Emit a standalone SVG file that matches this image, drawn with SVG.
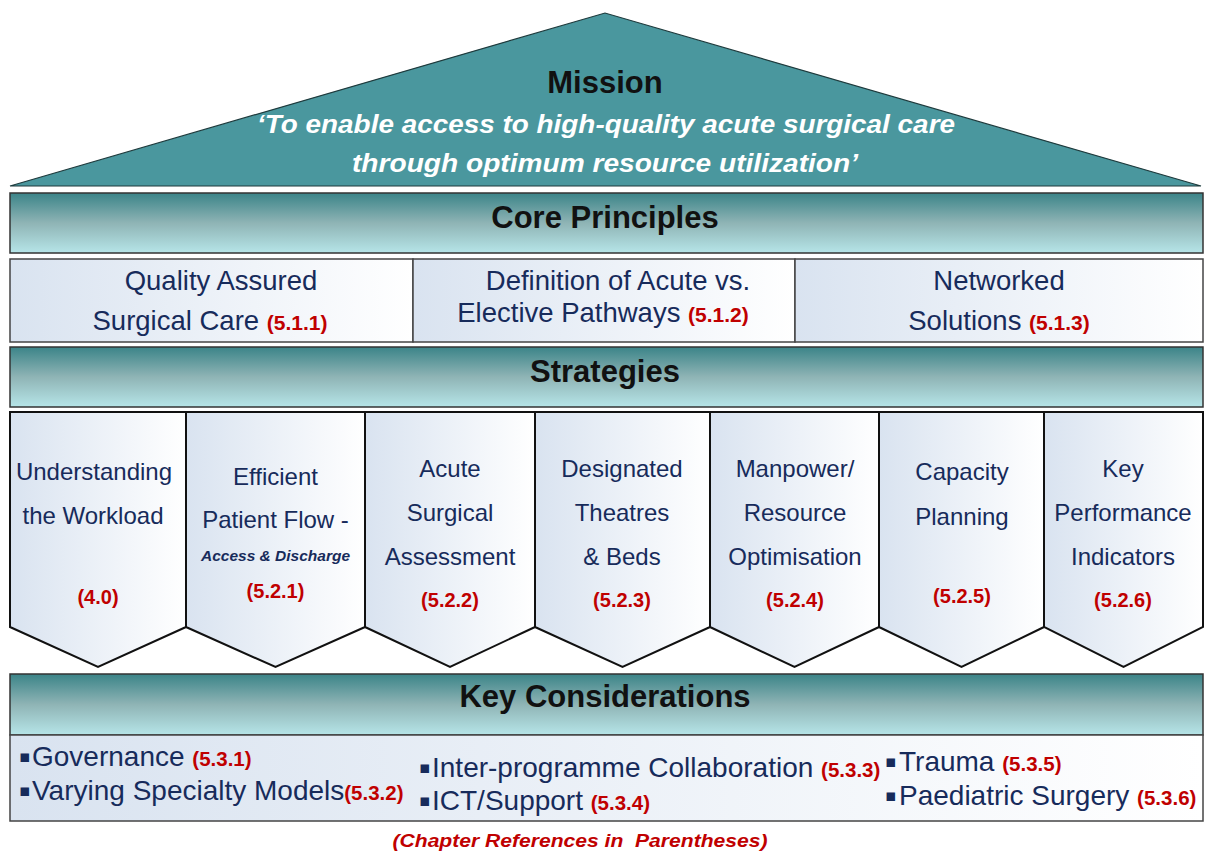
<svg xmlns="http://www.w3.org/2000/svg" width="1205" height="852" viewBox="0 0 1205 852">
<defs>
<linearGradient id="band" x1="0" y1="0" x2="0" y2="1">
<stop offset="0" stop-color="#3b8488"/>
<stop offset="0.5" stop-color="#8fb4b5"/>
<stop offset="1" stop-color="#b6e5e8"/>
</linearGradient>
<linearGradient id="cell" x1="0" y1="0" x2="1" y2="0">
<stop offset="0" stop-color="#d9e3f0"/>
<stop offset="1" stop-color="#ffffff"/>
</linearGradient>
</defs>
<style>
.band{fill:url(#band);stroke:#333;stroke-width:1.5}
.cell{fill:url(#cell);stroke:#444;stroke-width:1.5}
.pent{fill:url(#cell);stroke:#111;stroke-width:2;stroke-linejoin:miter}
.title{font-family:"Liberation Sans",Arial,sans-serif;font-weight:bold;font-size:31px;fill:#111;text-anchor:middle}
.mis{font-family:"Liberation Sans",Arial,sans-serif;font-weight:bold;font-style:italic;font-size:26px;fill:#ffffff;text-anchor:middle}
.pr{font-family:"Liberation Sans",Arial,sans-serif;font-size:27.5px;fill:#172b5b;text-anchor:middle}
.st{font-family:"Liberation Sans",Arial,sans-serif;font-size:24px;fill:#172b5b;text-anchor:middle}
.sub{font-family:"Liberation Sans",Arial,sans-serif;font-size:15.5px;font-weight:bold;font-style:italic;fill:#172b5b;text-anchor:middle}
.kc{font-family:"Liberation Sans",Arial,sans-serif;font-size:28px;fill:#172b5b}
.bul{font-family:"DejaVu Sans",sans-serif;font-size:17px;fill:#172b5b}
.ref{font-family:"Liberation Sans",Arial,sans-serif;font-weight:bold;font-size:21px;fill:#c00000}
.refk{font-family:"Liberation Sans",Arial,sans-serif;font-weight:bold;font-size:20.5px;fill:#c00000}
.refm{font-family:"Liberation Sans",Arial,sans-serif;font-weight:bold;font-size:20px;fill:#c00000;text-anchor:middle}
.foot{font-family:"Liberation Sans",Arial,sans-serif;font-weight:bold;font-style:italic;font-size:18px;fill:#c00000;text-anchor:middle}
</style>

<g id="roof">
<polygon points="10,186 605,13 1201,186" fill="#4a979e" stroke="#1e3a3c" stroke-width="1.2"/>
<text class="title" x="605" y="93">Mission</text>
<text class="mis" x="606" y="133" textLength="698" lengthAdjust="spacingAndGlyphs">‘To enable access to high-quality acute surgical care</text>
<text class="mis" x="605" y="172" textLength="506" lengthAdjust="spacingAndGlyphs">through optimum resource utilization’</text>
</g>

<g id="band-core">
<rect class="band" x="10" y="193" width="1193" height="60"/>
<text class="title" x="605" y="228">Core Principles</text>
</g>

<g id="principle-1">
<rect class="cell" x="10" y="259" width="403" height="83"/>
<text class="pr" x="221" y="290">Quality Assured</text>
<text class="pr" x="210" y="330">Surgical Care <tspan class="ref">(5.1.1)</tspan></text>
</g>
<g id="principle-2">
<rect class="cell" x="413" y="259" width="382" height="83"/>
<text class="pr" x="618" y="290">Definition of Acute vs.</text>
<text class="pr" x="603" y="322">Elective Pathways <tspan class="ref">(5.1.2)</tspan></text>
</g>
<g id="principle-3">
<rect class="cell" x="795" y="259" width="408" height="83"/>
<text class="pr" x="999" y="290">Networked</text>
<text class="pr" x="999" y="330">Solutions <tspan class="ref">(5.1.3)</tspan></text>
</g>

<g id="band-strategies">
<rect class="band" x="10" y="347" width="1193" height="60"/>
<text class="title" x="605" y="382">Strategies</text>
</g>

<g id="strategy-1">
<polygon class="pent" points="10,412 186,412 186,627 98,667 10,627"/>
<text class="st" x="94" y="480">Understanding</text>
<text class="st" x="93" y="524">the Workload</text>
<text class="refm" x="98" y="604">(4.0)</text>
</g>
<g id="strategy-2">
<polygon class="pent" points="186,412 365,412 365,627 275.5,667 186,627"/>
<text class="st" x="275.5" y="485">Efficient</text>
<text class="st" x="275.5" y="528">Patient Flow -</text>
<text class="sub" x="275.5" y="561">Access &amp; Discharge</text>
<text class="refm" x="275.5" y="598">(5.2.1)</text>
</g>
<g id="strategy-3">
<polygon class="pent" points="365,412 535,412 535,627 450,667 365,627"/>
<text class="st" x="450" y="477">Acute</text>
<text class="st" x="450" y="521">Surgical</text>
<text class="st" x="450" y="565">Assessment</text>
<text class="refm" x="450" y="607">(5.2.2)</text>
</g>
<g id="strategy-4">
<polygon class="pent" points="535,412 710,412 710,627 622.5,667 535,627"/>
<text class="st" x="622" y="477">Designated</text>
<text class="st" x="622" y="521">Theatres</text>
<text class="st" x="622" y="565">&amp; Beds</text>
<text class="refm" x="622" y="607">(5.2.3)</text>
</g>
<g id="strategy-5">
<polygon class="pent" points="710,412 879,412 879,627 794.5,667 710,627"/>
<text class="st" x="795" y="477">Manpower/</text>
<text class="st" x="795" y="521">Resource</text>
<text class="st" x="795" y="565">Optimisation</text>
<text class="refm" x="795" y="607">(5.2.4)</text>
</g>
<g id="strategy-6">
<polygon class="pent" points="879,412 1044,412 1044,627 961.5,667 879,627"/>
<text class="st" x="962" y="480">Capacity</text>
<text class="st" x="962" y="525">Planning</text>
<text class="refm" x="962" y="603">(5.2.5)</text>
</g>
<g id="strategy-7">
<polygon class="pent" points="1044,412 1203,412 1203,627 1123.5,667 1044,627"/>
<text class="st" x="1123" y="477">Key</text>
<text class="st" x="1123" y="521">Performance</text>
<text class="st" x="1123" y="565">Indicators</text>
<text class="refm" x="1123" y="607">(5.2.6)</text>
</g>

<g id="band-key">
<rect class="band" x="10" y="674" width="1193" height="61"/>
<text class="title" x="605" y="707">Key Considerations</text>
</g>

<g id="key-items">
<rect class="cell" x="10" y="735" width="1193" height="86"/>
<text class="bul" x="19" y="762">▪</text>
<text class="kc" x="32" y="766">Governance <tspan class="refk">(5.3.1)</tspan></text>
<text class="bul" x="19" y="796">▪</text>
<text class="kc" x="32" y="800">Varying Specialty Models<tspan class="refk">(5.3.2)</tspan></text>
<text class="bul" x="419" y="773">▪</text>
<text class="kc" x="432" y="777">Inter-programme Collaboration <tspan class="refk">(5.3.3)</tspan></text>
<text class="bul" x="419" y="806">▪</text>
<text class="kc" x="432" y="810">ICT/Support <tspan class="refk">(5.3.4)</tspan></text>
<text class="bul" x="885" y="767">▪</text>
<text class="kc" x="899" y="771">Trauma <tspan class="refk">(5.3.5)</tspan></text>
<text class="bul" x="885" y="801">▪</text>
<text class="kc" x="899" y="805">Paediatric Surgery <tspan class="refk">(5.3.6)</tspan></text>
</g>

<g id="footer">
<text class="foot" x="580" y="847" xml:space="preserve" textLength="375" lengthAdjust="spacingAndGlyphs">(Chapter References in  Parentheses)</text>
</g>

<g id="connectors"/>
</svg>
